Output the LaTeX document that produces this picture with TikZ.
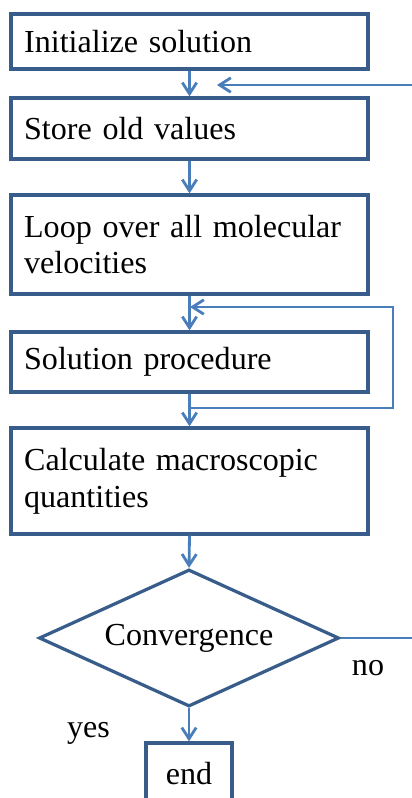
\documentclass[tikz,border=0pt]{standalone}
\usepackage{fontspec}
\setmainfont{Liberation Serif}
\usetikzlibrary{arrows.meta,shapes.geometric}

\definecolor{boxblue}{RGB}{56,93,138}
\definecolor{flowblue}{RGB}{74,126,187}

\begin{document}
\begin{tikzpicture}[
  x=0.025cm, y=-0.025cm,
  >={Straight Barb[length=2.8mm,width=3.6mm,line width=2pt]},
  every node/.style={font=\fontsize{22.8}{26.2}\selectfont},
  procbox/.style={draw=boxblue, line width=2.3pt, fill=white,
    minimum width=8.925cm, text width=8.265cm, inner xsep=0.33cm,
    align=left},
  decbox/.style={draw=boxblue, line width=2.3pt, fill=white, diamond,
    aspect=2.19, minimum width=7.5cm, minimum height=3.425cm, inner sep=0pt},
  flow/.style={draw=flowblue, line width=2pt}
]
\useasboundingbox (0,0) rectangle (412,798);

% ============================================================
% Process boxes
% ============================================================
\node[procbox, minimum height=1.375cm] (init)  at (189.5,41.5) {Initialize solution};
\node[procbox, minimum height=1.525cm] (store) at (189.5,128.5) {Store old values};
\node[procbox, minimum height=2.475cm] (loop)  at (189.5,244.5) {Loop over all molecular\\velocities};
\node[procbox, minimum height=1.5cm]   (sol)   at (189.5,362) {Solution procedure};
\node[procbox, minimum height=2.65cm]  (macro) at (189.5,481) {Calculate macroscopic\\quantities};

% ============================================================
% Convergence test and end
% ============================================================
\node[decbox] (conv) at (189,638) {Convergence};
\node[draw=boxblue, line width=2.3pt, minimum width=2.15cm, minimum height=1.55cm]
  (stop) at (189,774) {end};

\node[anchor=base] (nolab)  at (368,675) {no};
\node[anchor=base] (yeslab) at (88.5,737) {yes};

% ============================================================
% Main flow
% ============================================================
\draw[flow, ->] (init.south)  -- (store.north);
\draw[flow, ->] (store.south) -- (loop.north);
\draw[flow, ->] (loop.south)  -- (sol.north);
\draw[flow, ->] (sol.south)   -- (macro.north);
\draw[flow, ->] (macro.south) -- (conv.north);
\draw[flow, ->] (conv.south)  -- (stop.north);

% ============================================================
% Inner loop over velocities
% ============================================================
\coordinate (loopbot)    at (190,408);
\coordinate (loopcorner) at (393,307);
\coordinate (looptop)    at (190,307);
\draw[flow, ->] (loopbot) -| (loopcorner) -- (looptop);

% ============================================================
% Outer loop: no convergence -> back to storing old values
% ============================================================
\coordinate (noout)   at (412,638);
\draw[flow] (conv.east) -- (noout);

\coordinate (backin)  at (412,85);
\coordinate (backtip) at (217,85);
\draw[flow, ->] (backin) -- (backtip);

\end{tikzpicture}
\end{document}
